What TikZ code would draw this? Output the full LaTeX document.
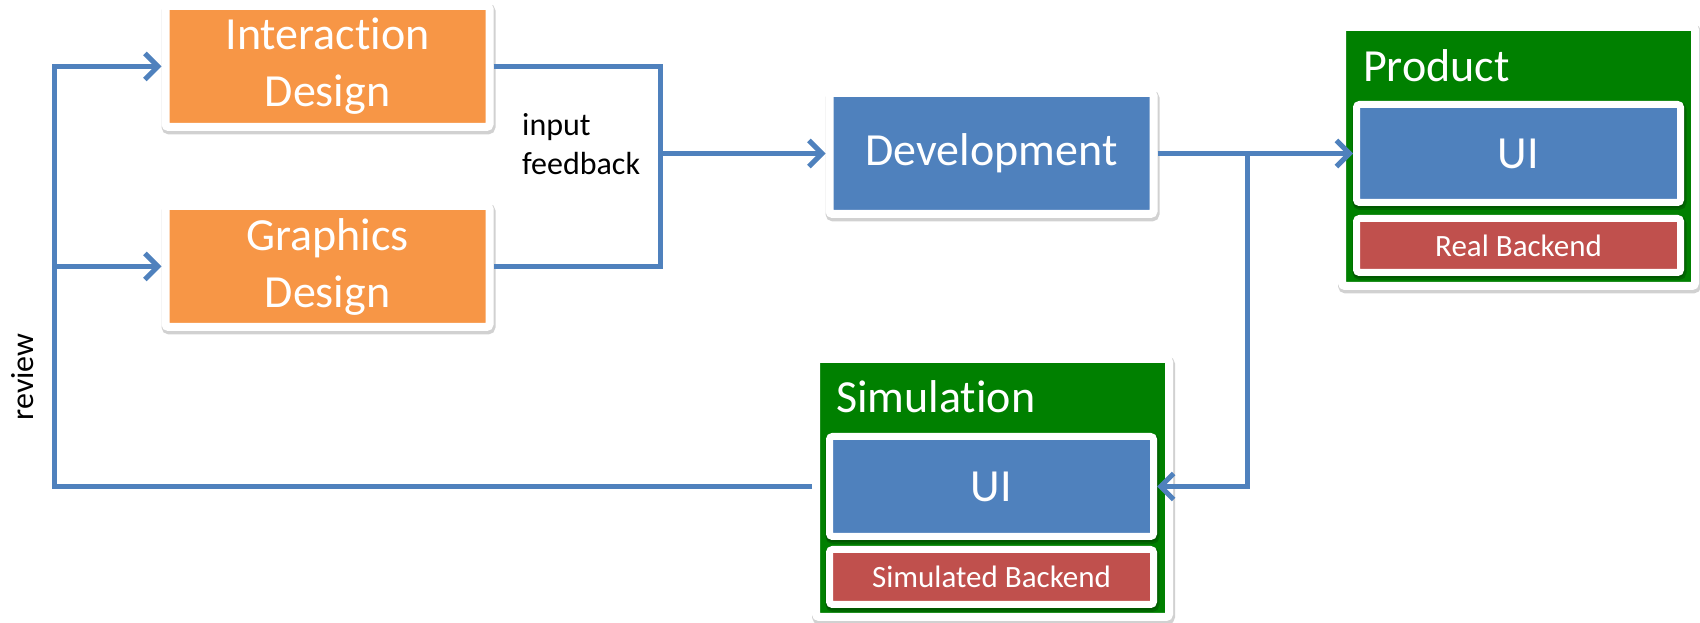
\documentclass[tikz,border=0pt]{standalone}
\usepackage{fontspec}
\setmainfont{Carlito}[Ligatures=NoCommon]
\usetikzlibrary{arrows.meta}

\definecolor{mauCam}{HTML}{F79646}
\definecolor{mauXanh}{HTML}{4F81BD}
\definecolor{mauLa}{HTML}{008000}
\definecolor{mauDo}{HTML}{C0504D}

% tách t và i để tránh chữ ghép
\newcommand{\tachti}{t\kern0pt i}

\begin{document}
\begin{tikzpicture}[x=1pt, y=1pt,
    khoi/.style={draw=white, line width=8pt, rounded corners=3pt, inner sep=0pt,
        text=white, align=center, font=\fontsize{46}{57}\selectfont,
        preaction={draw=black, draw opacity=0.18, line width=10pt,
            transform canvas={xshift=1pt, yshift=-2.5pt}},
        minimum width=324pt, minimum height=121pt},
    vung/.style={khoi, fill=mauLa, minimum width=353pt, minimum height=259pt},
    oTrong/.style={khoi, line width=7pt, fill=mauXanh, minimum width=324pt,
        preaction={draw=black, draw opacity=0.15, line width=8pt,
            transform canvas={yshift=-1.5pt}}},
    nhan/.style={inner sep=0pt, font=\fontsize{32}{39}\selectfont},
    luong/.style={mauXanh, line width=5pt},
    muiten/.style={luong, -{Straight Barb[length=13pt, width=26pt]}}]
    \useasboundingbox (0,0) rectangle (1700,623);

    % Các khối thiết kế và phát triển
    \node[khoi, fill=mauCam] (tuongtac) at (327.5,556.5) {Interac\tachti on\\Design};
    \node[khoi, fill=mauCam] (dohoa) at (327.5,356.5) {Graphics\\Design};
    \node[khoi, fill=mauXanh] (phattrien) at (991.5,469.5) {Development};

    % Khối sản phẩm
    \node[vung] (sanpham) at (1518.5,466.5) {};
    \node[anchor=base west, inner sep=0pt, text=white,
        font=\fontsize{46}{57}\selectfont] (tdsanpham) at (1363,541) {Product};
    \node[oTrong, minimum height=98pt] (spui) at (1518.5,469.5) {UI};
    \node[oTrong, fill=mauDo, minimum height=54pt,
        font=\fontsize{31}{38}\selectfont] (spback) at (1518.5,377.5) {Real Backend};

    % Khối mô phỏng
    \node[vung, minimum height=258pt] (mophong) at (992.5,135) {};
    \node[anchor=base west, inner sep=0pt, text=white,
        font=\fontsize{46}{57}\selectfont] (tdmophong) at (836,210) {Simula\tachti on};
    \node[oTrong, minimum height=100pt] (mpui) at (991.5,136.5) {UI};
    \node[oTrong, fill=mauDo, minimum height=55pt,
        font=\fontsize{31}{38}\selectfont] (mpback) at (991.5,46) {Simulated Backend};

    % Các điểm nối
    \coordinate (goc) at (54.5,136.5);
    \coordinate (noi) at (660,469.5);
    \coordinate (re) at (1247,469.5);

    % Vẽ các đường nối
    \draw[luong] (tuongtac.east) -| (noi) |- (dohoa.east);
    \draw[muiten] (noi) -- (phattrien.west);
    \draw[muiten] (phattrien.east) -- (spui.west);
    \draw[muiten] (re) |- (mpui.east);
    \draw[muiten] (mpui.center -| mophong.west) -| (goc |- tuongtac.center) -- (tuongtac.west);
    \draw[muiten] (goc |- dohoa.center) -- (dohoa.west);

    % Nhãn
    \node[nhan, anchor=west, align=left] (phanhoi) at (522,479) {input\\feedback};
    \node[nhan, rotate=90] (xemlai) at (23,246) {review};
\end{tikzpicture}
\end{document}
